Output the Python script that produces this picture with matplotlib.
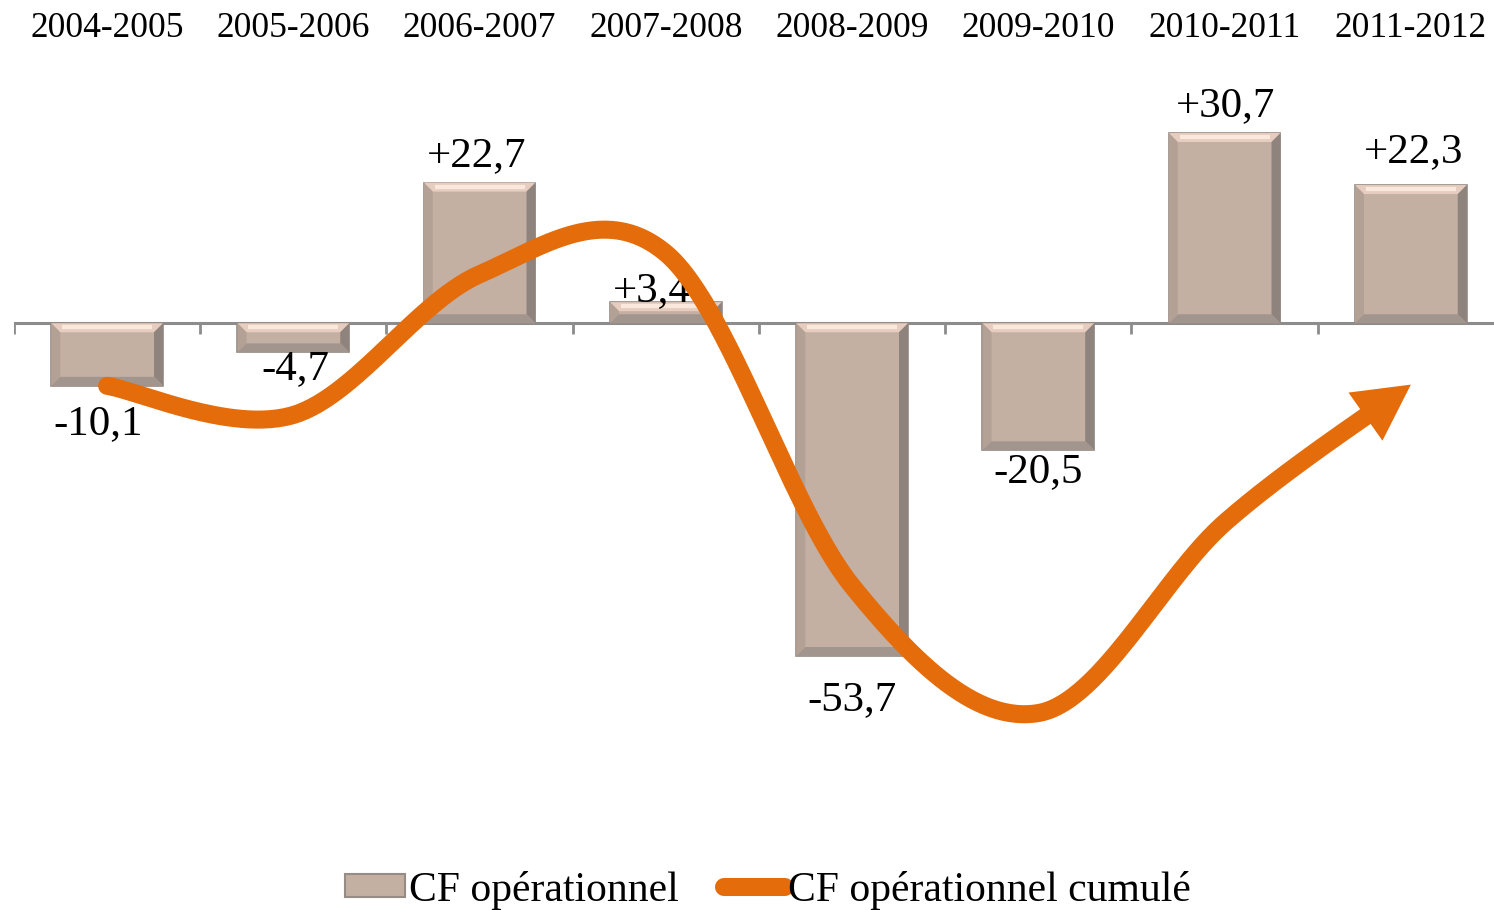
import numpy as np
import matplotlib
matplotlib.use("Agg")
import matplotlib.pyplot as plt
from matplotlib.patches import Polygon, Patch
from matplotlib.lines import Line2D

plt.rcParams['font.family'] = ['Liberation Serif', 'DejaVu Serif']

periodes = ['2004-2005', '2005-2006', '2006-2007', '2007-2008',
            '2008-2009', '2009-2010', '2010-2011', '2011-2012']
cf_oper = [-10.1, -4.7, 22.7, 3.4, -53.7, -20.5, 30.7, 22.3]
cf_cumul = np.cumsum(cf_oper)

# hand placed label offsets (pixels): along x, and distance from bar end
lab_dx = [-9, 2, -3, -14, 0, 0, 1, 3]
lab_gap = [38, 16, 27, 11, 44, 22, 27, 33]

ORANGE = '#E46C0A'
FACE = '#C4AFA3'

W, H = 1494, 910
fig = plt.figure(figsize=(W / 100, H / 100), dpi=100)
ax = fig.add_axes([14 / W, 1 - 819 / H, 1490 / W, 756 / H])
ax.set_xlim(-0.5, len(periodes) - 0.5)
ax.set_ylim(-80, 42)
for s in ax.spines.values():
    s.set_visible(False)
ax.set_yticks([])
ax.xaxis.tick_top()
ax.set_xticks(range(len(periodes)))
ax.set_xticklabels(periodes, fontsize=25.5)
ax.tick_params(axis='x', length=0, pad=13)

# pixel -> data factors
px_x = (ax.get_xlim()[1] - ax.get_xlim()[0]) / 1490
px_y = (ax.get_ylim()[1] - ax.get_ylim()[0]) / 756

# axis line with ticks between categories
ax.axhline(0, color='#8C8C8C', lw=2.2, zorder=1)
ax.vlines(np.arange(len(periodes) + 1) - 0.5, -11 * px_y, 0, color='#8C8C8C', lw=2, zorder=1)

# bars with a bevel
bw = 0.6
bars = ax.bar(range(len(periodes)), cf_oper, width=bw, color=FACE,
              edgecolor='#978B85', lw=1.2, zorder=2)
for b in bars:
    x0, y0 = b.get_x(), min(0, b.get_height())
    x1, y1 = x0 + b.get_width(), max(0, b.get_height())
    hpx = (y1 - y0) / px_y
    bev = min(9, hpx / 2.2)
    bx, by = bev * px_x, bev * px_y
    ax.add_patch(Polygon([(x0, y1), (x1, y1), (x1 - bx, y1 - by), (x0 + bx, y1 - by)],
                         closed=True, fc='#E6CDBF', ec='none', zorder=3))
    ax.plot([x0 + bx * 1.2, x1 - bx * 1.2], [y1 - by * 0.45] * 2, color='#FBE8DC',
            lw=3, zorder=3, solid_capstyle='butt')
    ax.add_patch(Polygon([(x0, y1), (x0 + bx, y1 - by), (x0 + bx, y0 + by), (x0, y0)],
                         closed=True, fc='#B3A196', ec='none', zorder=3))
    ax.add_patch(Polygon([(x1, y1), (x1 - bx, y1 - by), (x1 - bx, y0 + by), (x1, y0)],
                         closed=True, fc='#8E837D', ec='none', zorder=3))
    ax.add_patch(Polygon([(x0, y0), (x1, y0), (x1 - bx, y0 + by), (x0 + bx, y0 + by)],
                         closed=True, fc='#A1958E', ec='none', zorder=3))

# value labels
for i, v in enumerate(cf_oper):
    txt = f"{v:+.1f}".replace('.', ',')
    dy = lab_gap[i] if v > 0 else -lab_gap[i]
    ax.annotate(txt, (i, v), xytext=(lab_dx[i] * 0.72, dy * 0.72), textcoords='offset points',
                ha='center', va='center', fontsize=31, zorder=4)

# smoothed cumulative line (Bezier like Excel)
pts = np.column_stack([np.arange(len(cf_cumul)), cf_cumul]).astype(float)
curve = [pts[0]]
for i in range(len(pts) - 1):
    p0 = pts[i - 1] if i > 0 else pts[i]
    p1, p2 = pts[i], pts[i + 1]
    p3 = pts[i + 2] if i + 2 < len(pts) else pts[i + 1]
    c1 = p1 + (p2 - p0) / 6
    c2 = p2 - (p3 - p1) / 6
    t = np.linspace(0, 1, 60)[1:, None]
    seg = ((1 - t) ** 3) * p1 + 3 * ((1 - t) ** 2) * t * c1 + 3 * (1 - t) * t ** 2 * c2 + t ** 3 * p2
    curve.extend(seg)
curve = np.array(curve)

# stop the line where the arrow head begins
tip = curve[-1]
dist = np.hypot((curve[:, 0] - tip[0]) / px_x, (curve[:, 1] - tip[1]) / px_y)
k = np.where(dist >= 40)[0][-1]
ax.plot(curve[:k + 2, 0], curve[:k + 2, 1], color=ORANGE, lw=13,
        solid_capstyle='round', zorder=5)
ax.annotate('', xy=tip, xytext=curve[k],
            arrowprops=dict(arrowstyle='-|>,head_length=1.0,head_width=0.53',
                            mutation_scale=40, color=ORANGE, lw=0,
                            shrinkA=0, shrinkB=0), zorder=5)

handles = [Patch(facecolor=FACE, edgecolor='#978B85', lw=1.5),
           Line2D([], [], color=ORANGE, lw=13, solid_capstyle='round')]
fig.legend(handles, ['CF opérationnel', 'CF opérationnel cumulé'],
           loc='center', bbox_to_anchor=(0.514, 1 - 890 / H), ncol=2,
           frameon=False, fontsize=30, handlelength=1.45, handleheight=0.45,
           handletextpad=0.08, columnspacing=1.1)

fig.savefig('out.png', dpi=100)
